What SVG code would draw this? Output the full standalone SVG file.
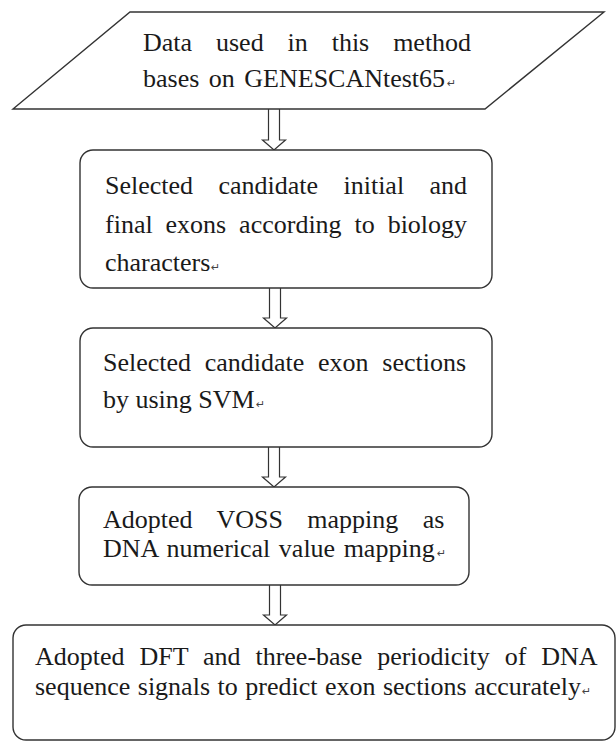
<svg xmlns="http://www.w3.org/2000/svg" width="616" height="742" viewBox="0 0 616 742">
<style>
.box{fill:#fff;stroke:#333;stroke-width:1.4}
.t{font-family:"Liberation Serif","Times New Roman",serif;font-size:26px;fill:#1a1a1a}
.rm{font-family:"DejaVu Sans",sans-serif;font-size:11px;fill:#444}
.arr{fill:#fff;stroke:#333;stroke-width:1.2;stroke-linejoin:miter}
</style>
<rect width="616" height="742" fill="#fff"/>
<g id="connectors">
<path class="arr" d="M268.5,109 V140 H262.5 L274,150 L285.5,140 H279.5 V109"/>
<path class="arr" d="M269.5,288 V318 H263.5 L275,328 L286.5,318 H280.5 V288"/>
<path class="arr" d="M268.5,447 V477 H262.5 L274,487 L285.5,477 H279.5 V447"/>
<path class="arr" d="M269.5,585 V615 H263.5 L275,625 L286.5,615 H280.5 V585"/>
</g>
<g id="node-input">
<polygon class="box" points="130,12 604,12 485,109 13,109"/>
<text class="t" x="143" y="51" word-spacing="17.4">Data used in this method</text>
<text class="t" x="143" y="87" word-spacing="3">bases on GENESCANtest65</text>
<text class="rm" x="447" y="87">↵</text>
</g>
<g id="node-select-initial-final">
<rect class="box" x="80" y="150" width="412" height="138" rx="13"/>
<text class="t" x="105" y="194" word-spacing="18.9">Selected candidate initial and</text>
<text class="t" x="105" y="233" word-spacing="6.4">final exons according to biology</text>
<text class="t" x="105" y="271">characters</text>
<text class="rm" x="211" y="271">↵</text>
</g>
<g id="node-select-svm">
<rect class="box" x="80" y="328" width="412" height="119" rx="13"/>
<text class="t" x="103" y="371" word-spacing="7.2">Selected candidate exon sections</text>
<text class="t" x="103" y="408">by using SVM</text>
<text class="rm" x="256" y="408">↵</text>
</g>
<g id="node-voss">
<rect class="box" x="79" y="487" width="390" height="98" rx="13"/>
<text class="t" x="103" y="528" word-spacing="17.9">Adopted VOSS mapping as</text>
<text class="t" x="103" y="557" word-spacing="2">DNA numerical value mapping</text>
<text class="rm" x="437" y="557">↵</text>
</g>
<g id="node-dft">
<rect class="box" x="13" y="625" width="602" height="115" rx="13"/>
<text class="t" x="35" y="665" word-spacing="8.4">Adopted DFT and three-base periodicity of DNA</text>
<text class="t" x="35" y="695" word-spacing="1">sequence signals to predict exon sections accurately</text>
<text class="rm" x="582" y="695">↵</text>
</g>
</svg>
